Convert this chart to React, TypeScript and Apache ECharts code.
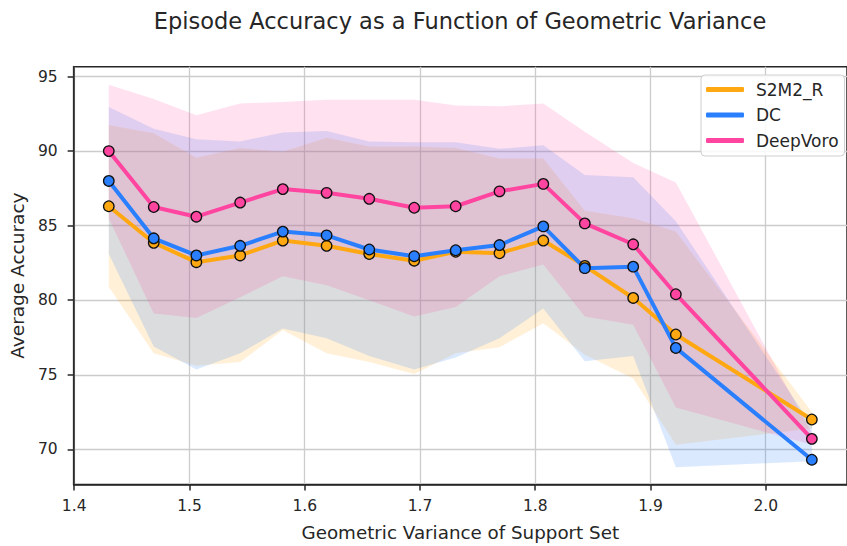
import React, { useEffect, useRef } from 'react';
import * as echarts from 'echarts';

// ---- data ----
const xValues = [1.430, 1.469, 1.506, 1.544, 1.581, 1.619, 1.656, 1.695, 1.731, 1.769, 1.807, 1.843, 1.885, 1.922, 2.040];

const s2m2Mean = [86.3, 83.85, 82.55, 83.0, 84.0, 83.65, 83.1, 82.65, 83.25, 83.15, 84.0, 82.3, 80.15, 77.7, 72.0];
const s2m2Upper = [91.75, 91.2, 89.55, 90.2, 89.95, 90.9, 90.3, 90.3, 90.2, 89.5, 89.5, 86.0, 85.5, 84.6, 72.5];
const s2m2Lower = [80.9, 76.45, 75.6, 75.85, 78.0, 76.45, 75.85, 75.05, 76.45, 76.85, 78.45, 76.35, 74.75, 70.3, 71.4];

const dcMean = [88.0, 84.15, 83.0, 83.65, 84.6, 84.35, 83.4, 82.95, 83.35, 83.7, 84.95, 82.15, 82.25, 76.8, 69.3];
const dcUpper = [92.95, 91.5, 90.8, 90.65, 91.25, 91.35, 90.65, 90.6, 90.6, 90.15, 90.4, 88.4, 88.25, 85.3, 71.6];
const dcLower = [83.1, 76.9, 75.35, 76.45, 78.1, 77.45, 76.25, 75.35, 76.15, 77.45, 79.45, 75.9, 76.25, 68.8, 69.2];

const deepVoroMean = [90.0, 86.25, 85.6, 86.55, 87.45, 87.2, 86.8, 86.2, 86.3, 87.3, 87.8, 85.15, 83.75, 80.4, 70.7];
const deepVoroUpper = [94.45, 93.5, 92.4, 93.2, 93.3, 93.45, 93.45, 93.45, 93.05, 93.0, 93.2, 91.3, 89.2, 87.9, 71.1];
const deepVoroLower = [85.5, 79.1, 78.8, 80.2, 81.6, 81.0, 80.0, 78.9, 79.55, 81.6, 82.4, 78.9, 78.35, 72.8, 70.3];

const seriesNames = ['S2M2_R', 'DC', 'DeepVoro'];
const xTicks = [1.4, 1.5, 1.6, 1.7, 1.8, 1.9, 2.0];
const yTicks = [70, 75, 80, 85, 90, 95];

const titleText = 'Episode Accuracy as a Function of Geometric Variance';
const xName = 'Geometric Variance of Support Set';
const yName = 'Average Accuracy';

// ---- styles ----
const FONT = 'DejaVu Sans';
const INK = '#262626';
const GRID = '#cccccc';
const lineColors = ['#ffa812', '#2a7fff', '#ff45a0'];
const bandColors = ['rgba(255,168,18,0.17)', 'rgba(42,127,255,0.17)', 'rgba(255,69,160,0.16)'];

function bandSeries(name: string, lower: number[], upper: number[], fill: string) {
  return {
    type: 'custom',
    name,
    silent: true,
    z: 1,
    data: xValues.map((x, i) => [x, lower[i], upper[i]]),
    encode: { x: 0, y: [1, 2] },
    renderItem: (params: any, api: any) => {
      if (params.dataIndex !== 0) return null;
      const top = xValues.map((x, i) => api.coord([x, upper[i]]));
      const bottom = xValues.map((x, i) => api.coord([x, lower[i]])).reverse();
      return {
        type: 'polygon',
        shape: { points: top.concat(bottom) },
        style: { fill, stroke: 'none' },
      };
    },
  };
}

function lineSeries(name: string, values: number[], color: string) {
  return {
    type: 'line',
    name,
    z: 3,
    data: xValues.map((x, i) => [x, values[i]]),
    symbol: 'circle',
    symbolSize: 10.5,
    lineStyle: { color, width: 4 },
    itemStyle: { color, borderColor: '#111', borderWidth: 1.3 },
  };
}

export default function App() {
  const ref = useRef<HTMLDivElement>(null);
  useEffect(() => {
    const chart = echarts.init(ref.current!, null, { renderer: 'svg' });
    const option: any = {
      animation: false,
      backgroundColor: '#ffffff',
      grid: {
        left: 70.7,
        top: 66.7,
        right: -6.8,
        bottom: 56,
        show: true,
        borderColor: INK,
        borderWidth: 1.5,
        backgroundColor: 'transparent',
      },
      graphic: [
        {
          type: 'text',
          x: 460,
          y: 20.5,
          style: {
            text: titleText,
            font: `22.5px "${FONT}"`,
            fontFamily: FONT,
            fontSize: 22.5,
            fill: INK,
            align: 'center',
            verticalAlign: 'middle',
            textAlign: 'center',
            textVerticalAlign: 'middle',
          },
        },
      ],
      legend: {
        data: seriesNames,
        orient: 'vertical',
        left: 701,
        top: 75,
        padding: [6, 6, 7, 5],
        itemGap: 8.5,
        itemWidth: 38,
        itemHeight: 5,
        icon: 'roundRect',
        backgroundColor: 'rgba(255,255,255,0.85)',
        borderColor: '#cfcfcf',
        borderWidth: 1,
        borderRadius: 4,
        itemStyle: { borderWidth: 0 },
        textStyle: { fontFamily: FONT, fontSize: 17, color: INK, padding: [0, 0, 0, 7] },
      },
      xAxis: {
        type: 'value',
        min: 1.3995,
        max: 2.0705,
        name: xName,
        nameLocation: 'middle',
        nameGap: 38.5,
        nameTextStyle: { fontFamily: FONT, fontSize: 18.3, color: INK },
        axisLine: { show: true, onZero: false, lineStyle: { color: INK, width: 1.5 } },
        axisTick: { show: true, length: 6, customValues: xTicks, lineStyle: { color: INK, width: 1.5 } },
        axisLabel: {
          customValues: xTicks,
          formatter: (v: number) => v.toFixed(1),
          fontFamily: FONT,
          fontSize: 15.5,
          color: INK,
          margin: 13,
        },
        splitLine: { show: true, lineStyle: { color: GRID, width: 1.3 } },
      },
      yAxis: {
        type: 'value',
        min: 67.64,
        max: 95.66,
        name: yName,
        nameLocation: 'middle',
        nameGap: 42,
        nameTextStyle: { fontFamily: FONT, fontSize: 18.5, color: INK },
        axisLine: { show: true, onZero: false, lineStyle: { color: INK, width: 1.5 } },
        axisTick: { show: true, length: 6, customValues: yTicks, lineStyle: { color: INK, width: 1.5 } },
        axisLabel: {
          customValues: yTicks,
          formatter: (v: number) => String(Math.round(v)),
          fontFamily: FONT,
          fontSize: 15.5,
          color: INK,
          margin: 16,
        },
        splitLine: { show: true, lineStyle: { color: GRID, width: 1.3 } },
      },
      series: [
        bandSeries('S2M2_R band', s2m2Lower, s2m2Upper, bandColors[0]),
        bandSeries('DC band', dcLower, dcUpper, bandColors[1]),
        bandSeries('DeepVoro band', deepVoroLower, deepVoroUpper, bandColors[2]),
        lineSeries(seriesNames[0], s2m2Mean, lineColors[0]),
        lineSeries(seriesNames[1], dcMean, lineColors[1]),
        lineSeries(seriesNames[2], deepVoroMean, lineColors[2]),
      ],
    };
    chart.setOption(option);
    return () => chart.dispose();
  }, []);
  return (
    <div
      ref={ref}
      style={{ position: 'fixed', left: 0, top: 0, width: 847, height: 546, background: '#fff' }}
    />
  );
}
